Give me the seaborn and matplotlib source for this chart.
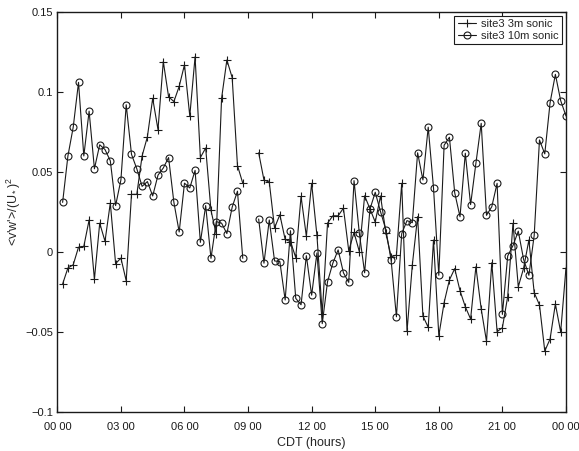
import numpy as np
import pandas as pd
import matplotlib
matplotlib.use("Agg")
import matplotlib.pyplot as plt
import seaborn as sns
from matplotlib.lines import Line2D

# time of day in hours (15-min samples)
hours = [0.25 * k for k in range(1, 97)]

site3_3m = [
    -0.020, -0.010, -0.008, 0.003, 0.0035, 0.020, -0.017, 0.018, 0.0067, 0.0306,
    -0.0073, -0.0038, -0.018, 0.036, 0.036, 0.060, 0.072, 0.096, 0.0765, 0.119,
    0.097, 0.094, 0.1035, 0.117, 0.085, 0.122, 0.059, 0.065, 0.026, 0.011,
    0.096, 0.120, 0.109, 0.054, 0.043, np.nan, np.nan, 0.062, 0.045, 0.0437,
    0.015, 0.0233, 0.0078, 0.0065, -0.0035, 0.0347, 0.0099, 0.0429, 0.0103, -0.0387,
    0.018, 0.0226, 0.0226, 0.0274, 0.0008, 0.0122, 0.0002, 0.0351, 0.027, 0.0187,
    0.035, 0.012, -0.003, -0.002, 0.0429, -0.0496, -0.0081, 0.0221, -0.040, -0.0471,
    0.0075, -0.0523, -0.0317, -0.0175, -0.0104, -0.0242, -0.0342, -0.0419, -0.0092, -0.0356,
    -0.0558, -0.0067, -0.0498, -0.0473, -0.0279, 0.0179, -0.0217, -0.0102, 0.0075, -0.0254,
    -0.0331, -0.0619, -0.0544, -0.0325, -0.050, -0.010,
]

site3_10m = [
    0.031, 0.060, 0.078, 0.106, 0.060, 0.088, 0.052, 0.067, 0.064, 0.057,
    0.029, 0.045, 0.092, 0.061, 0.052, 0.041, 0.044, 0.035, 0.048, 0.0525,
    0.059, 0.031, 0.0125, 0.043, 0.040, 0.051, 0.006, 0.029, -0.004, 0.019,
    0.018, 0.0115, 0.028, 0.038, -0.004, np.nan, np.nan, 0.0206, -0.007, 0.020,
    -0.0056, -0.006, -0.030, 0.0133, -0.029, -0.033, -0.0023, -0.027, -0.0006, -0.0448,
    -0.0185, -0.007, 0.0013, -0.013, -0.019, 0.0446, 0.0117, -0.013, 0.0267, 0.0373,
    0.0252, 0.014, -0.0052, -0.0405, 0.0115, 0.0196, 0.0183, 0.062, 0.045, 0.078,
    0.040, -0.0146, 0.0667, 0.0717, 0.037, 0.022, 0.0617, 0.0296, 0.0554, 0.0804,
    0.0229, 0.0283, 0.0429, -0.039, -0.0025, 0.004, 0.013, -0.0046, -0.0146, 0.0103,
    0.070, 0.0613, 0.0933, 0.111, 0.0946, 0.085,
]

series_names = ["site3 3m sonic", "site3 10m sonic"]
xtick_vals = [0, 3, 6, 9, 12, 15, 18, 21, 24]
xtick_labels = ["00 00", "03 00", "06 00", "09 00", "12 00", "15 00", "18 00", "21 00", "00 00"]
ytick_vals = [-0.1, -0.05, 0, 0.05, 0.1, 0.15]
ytick_labels = ["\u22120.1", "\u22120.05", "0", "0.05", "0.1", "0.15"]

def to_frame(name, vals):
    v = np.array(vals, dtype=float)
    seg = np.cumsum(np.isnan(v))
    df = pd.DataFrame({"t": hours, "v": v, "seg": seg, "series": name})
    return df.dropna()

df = pd.concat([to_frame(series_names[0], site3_3m), to_frame(series_names[1], site3_10m)],
               ignore_index=True)

sns.set_theme(style="ticks")
plt.rcParams["font.family"] = ["Liberation Sans", "DejaVu Sans"]
plt.rcParams["mathtext.fontset"] = "custom"
plt.rcParams["mathtext.rm"] = "Liberation Sans"
plt.rcParams["mathtext.it"] = "Liberation Sans"

fig = plt.figure(figsize=(5.79, 4.51), dpi=100)
ax = fig.add_axes([0.099, 0.0865, 0.8785, 0.887])

markers = {series_names[0]: "+", series_names[1]: "o"}
sizes = {series_names[0]: 6, series_names[1]: 5}
for name in series_names:
    sub = df[df["series"] == name]
    sns.lineplot(data=sub, x="t", y="v", units="seg", estimator=None, ax=ax,
                 color="k", linewidth=0.8, marker=markers[name],
                 markersize=sizes[name], markerfacecolor="none",
                 markeredgecolor="k", markeredgewidth=0.8, legend=False, sort=True)

ax.set_xlim(0, 24)
ax.set_ylim(-0.1, 0.15)
ax.set_xticks(xtick_vals)
ax.set_xticklabels(xtick_labels)
ax.set_yticks(ytick_vals)
ax.set_yticklabels(ytick_labels)
ax.tick_params(direction="in", top=True, right=True, labelsize=8, length=4,
               width=0.8, colors="k")
ax.tick_params(axis="x", pad=7)
ax.tick_params(axis="y", pad=3)
for s in ax.spines.values():
    s.set_visible(True)
    s.set_color("k")
    s.set_linewidth(1.0)
ax.set_xlabel("CDT (hours)", fontsize=9, labelpad=4)
ax.set_ylabel(r"<v'w'>/(U$_*$)$^2$", fontsize=9, labelpad=2)
ax.grid(False)

handles = [
    Line2D([], [], color="k", lw=0.8, marker="+", markersize=6, markeredgewidth=0.8),
    Line2D([], [], color="k", lw=0.8, marker="o", markersize=5, markerfacecolor="none",
           markeredgewidth=0.8),
]
leg = ax.legend(handles, series_names, loc="upper right", fontsize=8, frameon=True,
                fancybox=False, edgecolor="k", framealpha=1, handlelength=1.6,
                handletextpad=0.5, borderpad=0.3, labelspacing=0.15,
                borderaxespad=0.35)
leg.get_frame().set_linewidth(0.8)

fig.savefig("out.png", dpi=100, facecolor="white")
